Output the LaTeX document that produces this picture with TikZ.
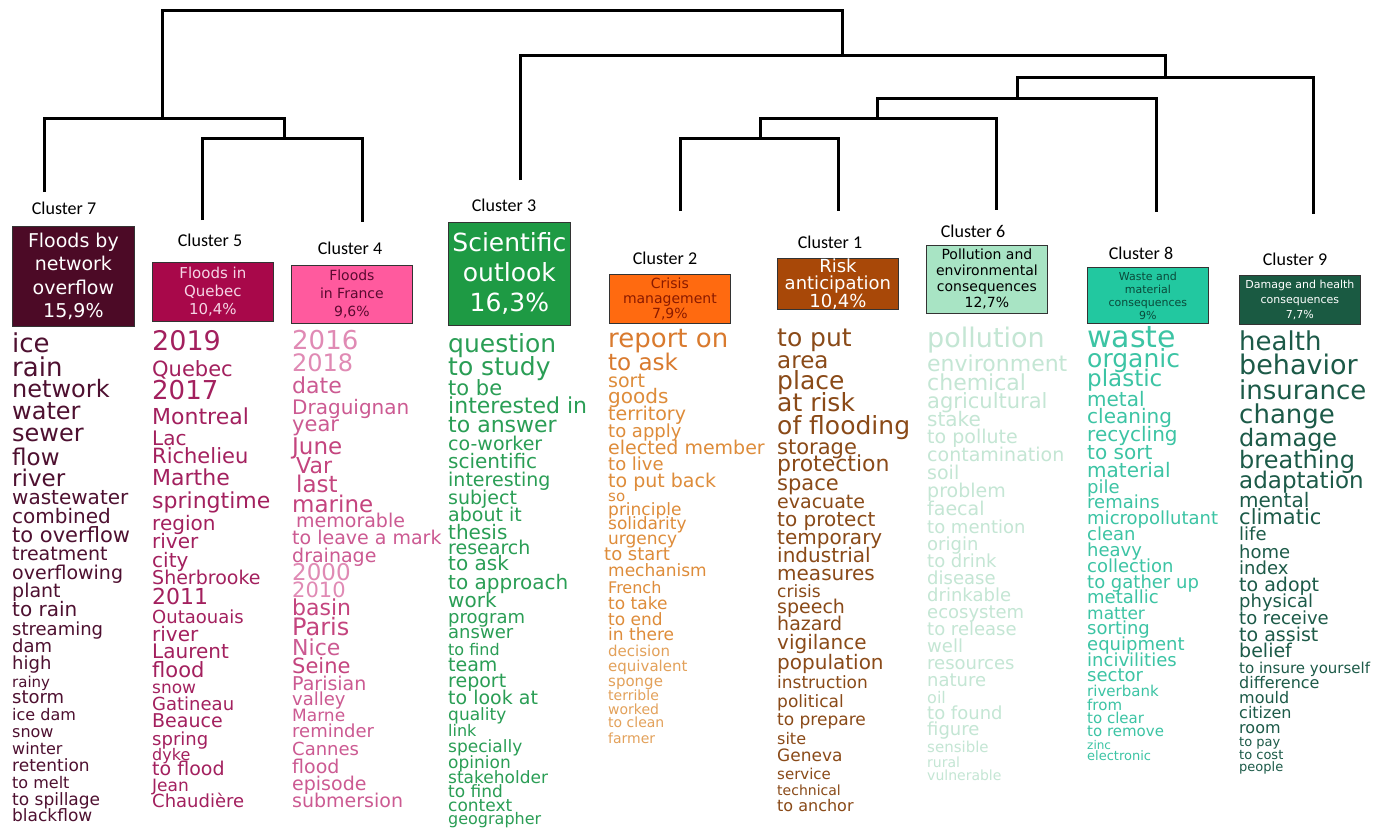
\documentclass[tikz,border=0pt]{standalone}
\usepackage{fontspec}
\setmainfont{DejaVu Sans}
\newfontfamily\calib{Carlito}
\definecolor{b7}{HTML}{4C0A26}
\definecolor{b5}{HTML}{A8084A}
\definecolor{b4}{HTML}{FF5A9E}
\definecolor{b3}{HTML}{1E9A44}
\definecolor{b2}{HTML}{FF6A10}
\definecolor{b1}{HTML}{A84808}
\definecolor{b6}{HTML}{A8E4C4}
\definecolor{b8}{HTML}{22C8A0}
\definecolor{b9}{HTML}{1A5A42}
\definecolor{w7}{HTML}{4E1030}
\definecolor{w5}{HTML}{A3205E}
\definecolor{w4}{HTML}{CC5A92}
\definecolor{w4d}{HTML}{C4447E}
\definecolor{w4l}{HTML}{E08AB4}
\definecolor{w3}{HTML}{2A9E55}
\definecolor{o1}{HTML}{D97A2E}
\definecolor{o2}{HTML}{DE8C3A}
\definecolor{o3}{HTML}{E3A15A}
\definecolor{w1}{HTML}{8A4A18}
\definecolor{w6}{HTML}{C4E6D4}
\definecolor{w8}{HTML}{3CC4A4}
\definecolor{w9}{HTML}{1C5A48}
\definecolor{t5}{HTML}{F5D5E5}
\definecolor{t4}{HTML}{5A0A30}
\definecolor{t2}{HTML}{8A1A00}
\definecolor{t8}{HTML}{0A4A3A}
\tikzset{
  dend/.style={line width=3pt, black},
  clab/.style={font=\calib\fontsize{18}{18}\selectfont, inner sep=0pt},
  tbox/.style={draw=black!80, line width=0.8pt, minimum width=121pt, inner sep=0pt, anchor=north west, align=center},
  word/.style={anchor=mid west, inner sep=0pt},
}
\newcommand\wordcol[4]{%
  \foreach \wy/\wsz/\wtx [count=\wi] in {#4} {
    \node[word, text=#3, font=\fontsize{\wsz}{\wsz}\selectfont] (#1w\wi) at (#2,\wy+5) {\wtx};
  }}
\newcommand\wordcolc[3]{%
  \foreach \wy/\wsz/\wcl/\wtx [count=\wi] in {#3} {
    \node[word, text=\wcl, font=\fontsize{\wsz}{\wsz}\selectfont] (#1w\wi) at (#2,\wy+5) {\wtx};
  }}
\begin{document}
\begin{tikzpicture}[x=1pt, y=-1pt]
\useasboundingbox[fill=white] (0,0) rectangle (1396,830);
% dendrogram
\coordinate (leaf7) at (44,192);
\coordinate (leaf5) at (202,220);
\coordinate (leaf4) at (362,222);
\coordinate (leaf3) at (520,180);
\coordinate (leaf2) at (680,211);
\coordinate (leaf1) at (838,211);
\coordinate (leaf6) at (996,210);
\coordinate (leaf8) at (1156,212);
\coordinate (leaf9) at (1313,214);
\coordinate (n54) at (284,138);
\coordinate (n754) at (162,118);
\coordinate (n21) at (760,138);
\coordinate (n216) at (877,118);
\coordinate (n2168) at (1017,98);
\coordinate (n9) at (1165,77);
\coordinate (n3) at (842,55);
\coordinate (root) at (500,10);
\draw[dend] (leaf5) |- (n54) -| (leaf4);
\draw[dend] (leaf7) |- (n754) -| (n54);
\draw[dend] (leaf2) |- (n21) -| (leaf1);
\draw[dend] (n21) |- (n216) -| (leaf6);
\draw[dend] (n216) |- (n2168) -| (leaf8);
\draw[dend] (n2168) |- (n9) -| (leaf9);
\draw[dend] (leaf3) |- (n3) -| (n9);
\draw[dend] (n754) |- (root) -| (n3);
% cluster labels
\node[clab] (l7) at (64,208) {Cluster 7};
\node[clab] (l5) at (210,240) {Cluster 5};
\node[clab] (l4) at (350,248) {Cluster 4};
\node[clab] (l3) at (504,205) {Cluster 3};
\node[clab] (l2) at (665,258) {Cluster 2};
\node[clab] (l1) at (830,242) {Cluster 1};
\node[clab] (l6) at (973,231) {Cluster 6};
\node[clab] (l8) at (1141,253) {Cluster 8};
\node[clab] (l9) at (1295,259) {Cluster 9};
% title boxes
\node[tbox, fill=b7, text=white, minimum width=122pt, minimum height=100pt, font=\fontsize{19}{23.5}\selectfont] (b7n) at (12,226) {Floods by\\network\\overflow\\15,9\%};
\node[tbox, fill=b5, text=t5, minimum height=59pt, font=\fontsize{15}{18}\selectfont] (b5n) at (152,262) {Floods in\\Quebec\\10,4\%};
\node[tbox, fill=b4, text=t4, minimum height=58pt, font=\fontsize{14}{18}\selectfont] (b4n) at (291,265) {Floods\\in France\\9,6\%};
\node[tbox, fill=b3, text=white, minimum width=122pt, minimum height=103pt, font=\fontsize{25}{30}\selectfont] (b3n) at (448,222) {Scientific\\outlook\\16,3\%};
\node[tbox, fill=b2, text=t2, minimum height=49pt, font=\fontsize{14}{15}\selectfont] (b2n) at (609,274) {Crisis\\management\\7,9\%};
\node[tbox, fill=b1, text=white, minimum height=51pt, font=\fontsize{18}{17}\selectfont] (b1n) at (777,258) {Risk\\anticipation\\10,4\%};
\node[tbox, fill=b6, text=black, minimum height=68pt, font=\fontsize{14}{16}\selectfont] (b6n) at (926,245) {Pollution and\\environmental\\consequences\\12,7\%};
\node[tbox, fill=b8, text=t8, minimum height=56pt, font=\fontsize{11}{13}\selectfont] (b8n) at (1087,267) {Waste and\\material\\consequences\\9\%};
\node[tbox, fill=b9, text=white, minimum height=49pt, font=\fontsize{11}{15}\selectfont] (b9n) at (1239,275) {Damage and health\\consequences\\7,7\%};
% word lists
\wordcol{c7}{12}{w7}{345/26/ice, 369/26/rain, 390/24/network, 412/24/water, 434/24/sewer, 458/23/flow, 479/23/river, 497/20/wastewater, 516/20/combined, 535/21/to overflow, 553/19/treatment, 572/19/overflowing, 590/19/plant, 609/20/to rain, 628/18/streaming, 645/18/dam, 662/18/high, 680/15/rainy, 696/18/storm, 713/16/ice dam, 730/16/snow, 747/16/winter, 764/17/retention, 781/16/to melt, 798/17/to spillage, 814/17/blackflow}
\wordcol{c5}{152}{w5}{343/27/2019, 369/21/Quebec, 392/26/2017, 417/22/Montreal, 438/20/Lac, 456/21/Richelieu, 478/22/Marthe, 501/22/springtime, 523/20/region, 541/20/river, 560/20/city, 577/19/Sherbrooke, 597/22/2011, 616/18/Outaouais, 634/20/river, 651/20/Laurent, 670/21/flood, 686/17/snow, 703/18/Gatineau, 720/19/Beauce, 738/18/spring, 753/16/dyke, 768/19/to flood, 784/17/Jean, 800/18/Chaudière}
\wordcolc{c4}{292}{342/26/w4l/2016, 364/24/w4l/2018, 386/22/w4/date, 407/20/w4/Draguignan, 424/21/w4/year, 447/23/w4d/June, 466/22/w4d/\hspace{4pt}Var, 485/23/w4d/\hspace{4pt}last, 505/23/w4d/marine, 520/19/w4/\hspace{4pt}memorable, 537/19/w4/to leave a mark, 555/19/w4/drainage, 573/23/w4l/2000, 590/21/w4l/2010, 608/22/w4d/basin, 628/24/w4d/Paris, 648/22/w4/Nice, 666/21/w4d/Seine, 683/19/w4/Parisian, 698/18/w4/valley, 714/17/w4/Marne, 730/18/w4/reminder, 748/18/w4/Cannes, 766/19/w4/flood, 783/19/w4/episode, 800/19/w4/submersion}
\wordcol{c3}{448}{w3}{345/25/question, 368/25/to study, 388/21/to be, 406/22/interested in, 425/22/to answer, 443/19/co-worker, 461/20/scientific, 479/19/interesting, 497/19/subject, 514/19/about it, 532/20/thesis, 547/19/research, 563/20/to ask, 582/20/to approach, 600/20/work, 616/18/program, 631/18/answer, 648/16/to find, 664/19/team, 680/19/report, 697/19/to look at, 713/17/quality, 729/16/link, 745/17/specially, 761/17/opinion, 776/17/stakeholder, 790/17/to find, 804/17/context, 817/16/geographer}
\wordcolc{c2}{608}{340/26/o1/report on, 363/23/o1/to ask, 380/19/o2/sort, 396/20/o2/goods, 413/19/o2/territory, 430/18/o2/to apply, 447/19/o2/elected member, 463/18/o2/to live, 480/19/o2/to put back, 494/15/o2/so, 508/17/o2/principle, 522/17/o2/solidarity, 537/17/o2/urgency, 553/18/o2/\hspace{-4pt}to start, 569/17/o2/mechanism, 586/16/o2/French, 602/17/o2/to take, 618/17/o2/to end, 633/17/o2/in there, 649/15/o3/decision, 664/15/o3/equivalent, 679/15/o3/sponge, 693/14/o3/terrible, 707/14/o3/worked, 720/14/o3/to clean, 736/14/o3/farmer}
\wordcol{c1}{777}{w1}{339/25/to put, 361/23/area, 382/25/place, 404/25/at risk, 427/25/of flooding, 447/21/storage, 464/22/protection, 483/21/space, 501/19/evacuate, 519/20/to protect, 537/20/temporary, 555/20/industrial, 573/20/measures, 590/17/crisis, 606/19/speech, 623/19/hazard, 642/20/vigilance, 662/20/population, 681/17/instruction, 700/17/political, 718/17/to prepare, 737/16/site, 754/17/Geneva, 772/15/service, 788/14/technical, 804/16/to anchor}
\wordcol{c6}{927}{w6}{340/27/pollution, 364/22/environment, 383/22/chemical, 401/21/agricultural, 419/20/stake, 436/19/to pollute, 454/19/contamination, 472/19/soil, 490/19/problem, 508/19/faecal, 526/18/to mention, 543/18/origin, 560/18/to drink, 577/18/disease, 594/18/drinkable, 611/18/ecosystem, 628/18/to release, 645/18/well, 662/18/resources, 679/18/nature, 696/16/oil, 712/18/to found, 728/18/figure, 745/15/sensible, 760/14/rural, 773/14/vulnerable}
\wordcol{c8}{1087}{w8}{340/30/waste, 360/25/organic, 379/23/plastic, 399/20/metal, 416/20/cleaning, 434/20/recycling, 452/20/to sort, 470/20/material, 486/18/pile, 501/18/remains, 517/18/micropollutant, 533/18/clean, 549/18/heavy, 565/18/collection, 581/18/to gather up, 596/18/metallic, 612/17/matter, 627/18/sorting, 643/18/equipment, 659/18/incivilities, 674/18/sector, 689/15/riverbank, 703/15/from, 716/15/to clear, 729/15/to remove, 742/12/zinc, 753/13/electronic}
\wordcol{c9}{1239}{w9}{343/26/health, 367/27/behavior, 392/26/insurance, 416/26/change, 439/24/damage, 461/24/breathing, 481/23/adaptation, 500/20/mental, 517/21/climatic, 533/18/life, 551/18/home, 567/18/index, 584/19/to adopt, 600/18/physical, 617/18/to receive, 634/19/to assist, 650/19/belief, 666/15/to insure yourself, 681/16/difference, 696/16/mould, 711/16/citizen, 726/16/room, 739/13/to pay, 752/13/to cost, 764/13/people}
\end{tikzpicture}
\end{document}
